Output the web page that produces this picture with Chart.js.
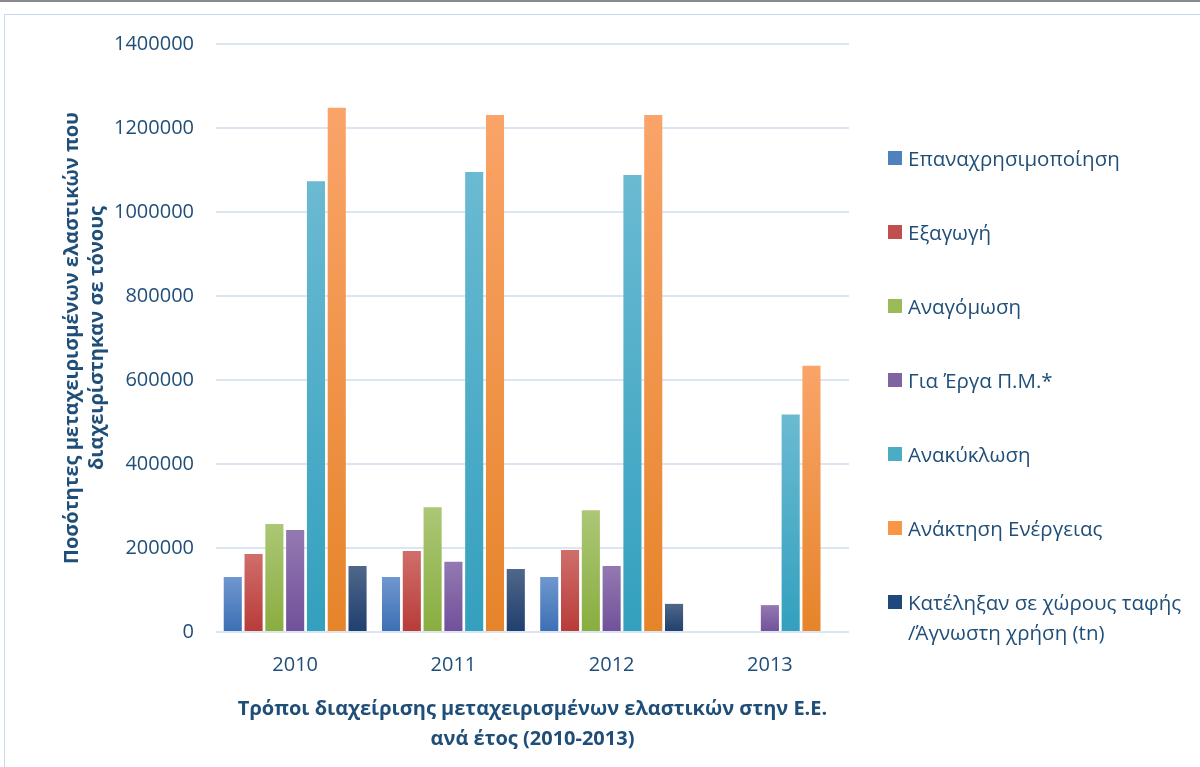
<!DOCTYPE html>
<html>
<head>
<meta charset="utf-8">
<script src="https://cdn.jsdelivr.net/npm/chart.js@4.4.1/dist/chart.umd.min.js"></script>
<style>
  body { margin: 0; background: #fff; }
  #wrap { position: relative; width: 1200px; height: 767px; overflow: hidden; }
  #topline { position: absolute; left: 0; top: 0; width: 1200px; height: 2px; background: #8a8a8a; }
  #frame { position: absolute; left: 4px; top: 14px; width: 1210px; height: 770px; border: 1px solid #c6d9f1; }
  #legend { position: absolute; left: 888px; top: 143px; font-family: "Open Sans", sans-serif; font-size: 20.5px; color: #1f4e79; }
  .item { position: relative; height: 74px; padding-left: 20px; line-height: 30px; }
  .box { position: absolute; left: 0; top: 8px; width: 14px; height: 14px; }
</style>
</head>
<body>
<div id="wrap">
  <div id="topline"></div>
  <div id="frame"></div>
  <canvas id="myChart" width="1200" height="767" style="position:absolute;left:0;top:0"></canvas>
  <div id="legend"></div>
</div>
<script>
let years = ['2010', '2011', '2012', '2013'];

let labels = ['Επαναχρησιμοποίηση', 'Εξαγωγή', 'Αναγόμωση', 'Για Έργα Π.Μ.*',
  'Ανακύκλωση', 'Ανάκτηση Ενέργειας', 'Κατέληξαν σε χώρους ταφής /Άγνωστη χρήση (tn)'];

let reuse = [131000, 131000, 131000, null];
let exportData = [186000, 193000, 195000, null];
let retread = [257000, 297000, 290000, null];
let civil = [243000, 167000, 157000, 64000];
let recycling = [1073000, 1095000, 1088000, 518000];
let energy = [1248000, 1231000, 1231000, 634000];
let landfill = [157000, 150000, 67000, null];

let yTicks = [0, 200000, 400000, 600000, 800000, 1000000, 1200000, 1400000];

// top colour, bottom colour of each bar gradient
let colorsTop = ['#6f97cf', '#d06e6b', '#acc776', '#9379b1', '#6bbad2', '#faa469', '#4f6789'];
let colorsBottom = ['#3c6fb4', '#b83b38', '#89ad3f', '#71509a', '#33a0be', '#e6842a', '#1f3f6e'];
let legendColors = ['#4f81bd', '#c0504d', '#9bbb59', '#8064a2', '#4bacc6', '#f79646', '#1f497d'];

let series = [reuse, exportData, retread, civil, recycling, energy, landfill];
let textColor = '#1f4e79';

function barGradient(i) {
  return function (c) {
    let chart = c.chart;
    if (!chart.chartArea || c.raw == null) return colorsBottom[i];
    let y = chart.scales.y;
    let g = chart.ctx.createLinearGradient(0, y.getPixelForValue(c.raw), 0, y.getPixelForValue(0));
    g.addColorStop(0, colorsTop[i]);
    g.addColorStop(1, colorsBottom[i]);
    return g;
  };
}

let datasets = series.map((d, i) => ({
  label: labels[i],
  data: d,
  backgroundColor: barGradient(i),
  borderWidth: 0,
  categoryPercentage: 0.92,
  barPercentage: 0.87
}));

let ctx = document.getElementById('myChart').getContext('2d');
let myChart = new Chart(ctx, {
  type: 'bar',
  data: { labels: years, datasets: datasets },
  options: {
    responsive: false,
    animation: false,
    layout: { padding: { left: 56, right: 351, top: 44, bottom: 13 } },
    plugins: {
      legend: { display: false },
      tooltip: { enabled: false }
    },
    scales: {
      x: {
        grid: { display: false },
        border: { display: false },
        ticks: { color: textColor, font: { family: 'Open Sans', size: 20 }, padding: 13 },
        title: {
          display: true,
          text: ['Τρόποι διαχείρισης μεταχειρισμένων ελαστικών στην Ε.Ε.', 'ανά έτος (2010-2013)'],
          color: textColor,
          font: { family: 'Open Sans', size: 20, weight: 'bold', lineHeight: 1.5 },
          padding: { top: 4, bottom: 0 }
        }
      },
      y: {
        min: 0,
        max: 1400000,
        afterBuildTicks: axis => { axis.ticks = yTicks.map(v => ({ value: v })); },
        grid: { color: '#dce6f2', lineWidth: 2, drawTicks: false },
        border: { display: false },
        ticks: { color: textColor, font: { family: 'Open Sans', size: 20 }, padding: 22, callback: v => String(v) },
        title: {
          display: true,
          text: ['Ποσότητες μεταχειρισμένων ελαστικών που', 'διαχειρίστηκαν σε τόνους'],
          color: textColor,
          font: { family: 'Open Sans', size: 20, weight: 'bold', lineHeight: 1.25 },
          padding: { top: 4, bottom: -18 }
        }
      }
    }
  }
});

// legend
let legendEl = document.getElementById('legend');
let legendText = ['Επαναχρησιμοποίηση', 'Εξαγωγή', 'Αναγόμωση', 'Για Έργα Π.Μ.*',
  'Ανακύκλωση', 'Ανάκτηση Ενέργειας', 'Κατέληξαν σε χώρους ταφής<br>/Άγνωστη χρήση (tn)'];
legendText.forEach((t, i) => {
  let div = document.createElement('div');
  div.className = 'item';
  div.innerHTML = '<span class="box" style="background:' + legendColors[i] + '"></span>' + t;
  legendEl.appendChild(div);
});
</script>
</body>
</html>
